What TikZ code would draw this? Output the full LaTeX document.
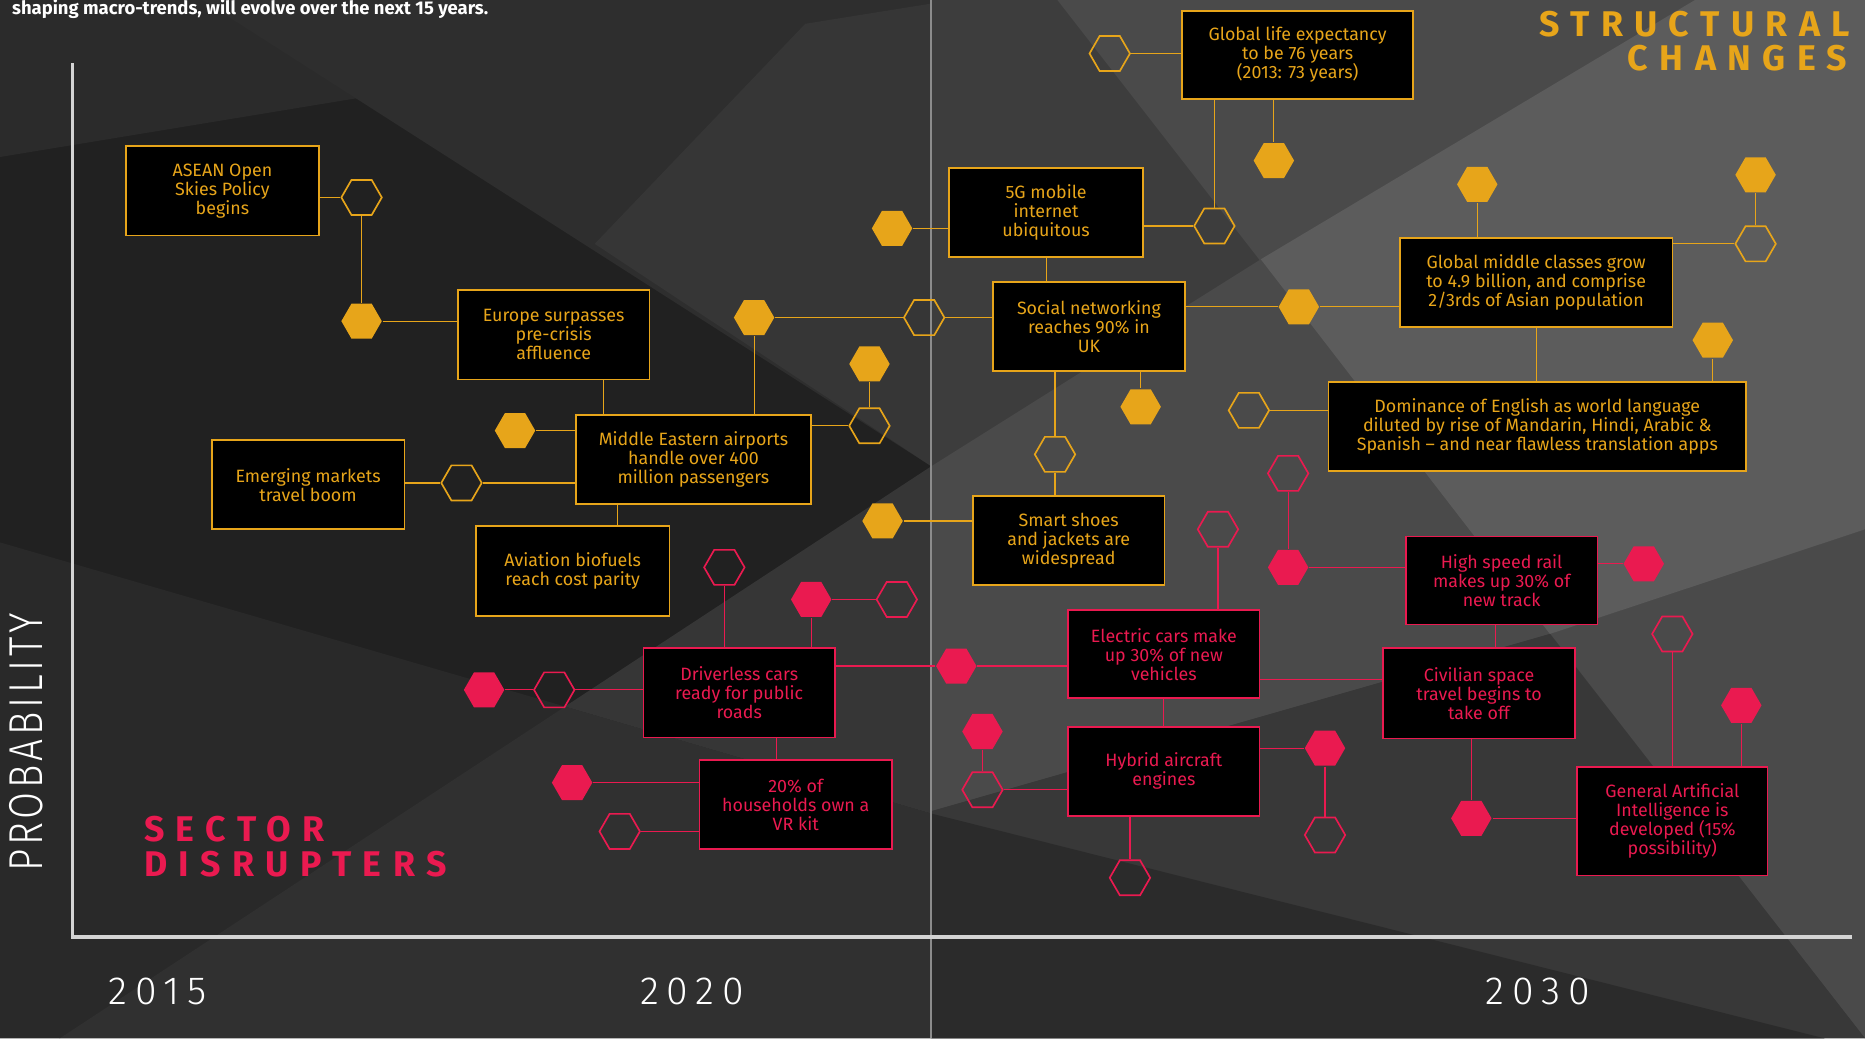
\documentclass[tikz,border=0pt]{standalone}
\usepackage{fontspec}
\setmainfont{Fira Sans}
\usetikzlibrary{shapes.geometric}
\definecolor{strorange}{HTML}{E7A51A}
\definecolor{secpink}{HTML}{EA1A50}
\definecolor{axisgrey}{HTML}{D4D4D4}
\newfontfamily\headfont[LetterSpace=32]{Fira Sans}
\IfFontExistsTF{Fira Sans Light}
  {\newfontfamily\yearfont[LetterSpace=20]{Fira Sans Light}
   \newfontfamily\probfont[LetterSpace=8,FakeStretch=0.82]{Fira Sans Light}}
  {\newfontfamily\yearfont[LetterSpace=20]{Fira Sans}
   \newfontfamily\probfont[LetterSpace=8,FakeStretch=0.82]{Fira Sans}}

\begin{document}
\begin{tikzpicture}[x=1pt,y=-1pt]
\tikzstyle{trend}=[draw, fill=black, line width=1.4pt, minimum width=161pt, minimum height=75pt, inner sep=2pt, align=center, font=\fontsize{15}{16}\selectfont]
\tikzstyle{sbox}=[trend, draw=strorange, text=strorange]
\tikzstyle{dbox}=[trend, draw=secpink, text=secpink]
\tikzstyle{hex}=[regular polygon, regular polygon sides=6, minimum size=34pt, inner sep=0pt, line width=1.4pt]
\tikzstyle{shexf}=[hex, fill=strorange]
\tikzstyle{shexo}=[hex, draw=strorange]
\tikzstyle{dhexf}=[hex, fill=secpink]
\tikzstyle{dhexo}=[hex, draw=secpink]
\tikzstyle{slink}=[draw=strorange, line width=1pt]
\tikzstyle{dlink}=[draw=secpink, line width=1pt]
\tikzstyle{heading}=[inner sep=0pt, font=\headfont\bfseries\fontsize{30}{32}\selectfont]
\tikzstyle{year}=[anchor=base west, inner sep=0pt, text=white, font=\yearfont\fontsize{33}{35}\selectfont]

\useasboundingbox (0,0) rectangle (1568,873);

% background shards
\fill[black!87] (0,0) rectangle (783,873);
\fill[black!83] (0,0) -- (783,0) -- (783,3) -- (0,132) -- cycle;
\fill[black!82] (170,0) -- (783,0) -- (783,392) -- cycle;
\fill[black!79] (500,205) -- (677,20) -- (783,3) -- (783,392) -- cycle;
\fill[black!84] (0,456) -- (475,594) -- (50,873) -- (0,873) -- cycle;
\fill[black!81] (475,594) -- (783,684) -- (783,873) -- (50,873) -- cycle;
\fill[black!79] (475,594) -- (783,392) -- (783,684) -- cycle;
\fill[black!76] (783,0) rectangle (1568,873);
\fill[black!71] (889,0) -- (1568,0) -- (1568,873) -- cycle;
\fill[black!71] (783,392) -- (1060,218) -- (1303,533) -- (783,682) -- cycle;
\fill[black!64] (1060,218) -- (1425,0) -- (1568,0) -- (1568,445) -- (1303,533) -- cycle;
\fill[black!78] (783,682) -- (1303,533) -- (1568,873) -- (783,873) -- cycle;
\fill[black!83] (783,684) -- (1534,873) -- (783,873) -- cycle;
%\draw[help lines] (0,0) grid[step=100] (1568,873);

\draw[black!45, line width=1.6pt] (783,0) -- (783,873);
\draw[axisgrey, line width=3pt] (61,53) -- (61,788) -- (1557,788);

\node (intro) [anchor=base west, inner sep=0pt, text=white, font=\bfseries\fontsize{15.5}{17}\selectfont] at (10,12) {shaping macro-trends, will evolve over the next 15 years.};

\node (prob) [rotate=90, anchor=base west, inner sep=0pt, text=white, font=\probfont\fontsize{40}{42}\selectfont] at (36,733) {PROBABILITY};
\node (y2015) [year] at (91,844.6) {2015};
\node (y2020) [year] at (538,844.6) {2020};
\node (y2030) [year] at (1249,844.6) {2030};

\node (structural) [heading, anchor=base west, text=strorange] at (1294,30.3) {STRUCTURAL};
\node (changes) [heading, anchor=base west, text=strorange] at (1368.5,59.4) {CHANGES};
\node (sector) [heading, anchor=base west, text=secpink] at (121,707.5) {SECTOR};
\node (disrupters) [heading, anchor=base west, text=secpink] at (121,737) {DISRUPTERS};

% structural changes
\node (asean) [sbox, minimum width=162pt] at (187,160.5) {ASEAN Open\\Skies Policy\\begins};
\node (europe) [sbox] at (465.5,281.5) {Europe surpasses\\pre-crisis\\affluence};
\node (mideast) [sbox, minimum width=198pt] at (583,386.5) {Middle Eastern airports\\handle over 400\\million passengers};
\node (emerging) [sbox, minimum width=162pt] at (259,407.5) {Emerging markets\\travel boom};
\node (biofuel) [sbox, minimum width=163pt, minimum height=76pt] at (481.5,480) {Aviation biofuels\\reach cost parity};
\node (lifeexp) [sbox, minimum width=194pt, minimum height=74pt] at (1091,46) {Global life expectancy\\to be 76 years\\(2013: 73 years)};
\node (fiveg) [sbox, minimum width=163pt] at (879.5,178.5) {5G mobile\\internet\\ubiquitous};
\node (social) [sbox] at (915.5,274.5) {Social networking\\reaches 90\% in\\UK};
\node (midclass) [sbox, minimum width=229pt] at (1291.5,237.5) {Global middle classes grow\\to 4.9 billion, and comprise\\2/3rds of Asian population};
\node (english) [sbox, minimum width=351pt] at (1292.5,358.5) {Dominance of English as world language\\diluted by rise of Mandarin, Hindi, Arabic \&\\Spanish -- and near flawless translation apps};
\node (shoes) [sbox] at (898.5,454.5) {Smart shoes\\and jackets are\\widespread};

\node (ho1) [shexo] at (304,166) {};
\node (hf1) [shexf] at (304,270) {};
\node (hf2) [shexf] at (433,362) {};
\node (hf3) [shexf] at (634,267) {};
\node (ho2) [shexo] at (777,267) {};
\node (hf4) [shexf] at (731,306) {};
\node (ho3) [shexo] at (731,358) {};
\node (ho4) [shexo] at (388,406) {};
\node (ho5) [shexo] at (933,45) {};
\node (hf5) [shexf] at (1071,135) {};
\node (ho6) [shexo] at (1021,190) {};
\node (hf6) [shexf] at (750,192) {};
\node (hf7) [shexf] at (1092,258) {};
\node (hf8) [shexf] at (959,342) {};
\node (ho7) [shexo] at (887,382) {};
\node (hf9) [shexf] at (1242,155) {};
\node (hf10) [shexf] at (1476,147) {};
\node (ho8) [shexo] at (1476,205) {};
\node (ho9) [shexo] at (1050,345) {};
\node (hf11) [shexf] at (1440,286) {};
\node (hf12) [shexf] at (742,438) {};

\draw[slink] (asean.east |- ho1) -- (ho1) -- (hf1) -- (europe.west |- hf1);
\draw[slink] ([xshift=42pt]europe.south) -- ([xshift=42pt]europe.south |- mideast.north);
\draw[slink] (hf2) -- (mideast.west |- hf2);
\draw[slink] (mideast.north -| hf3) -- (hf3) -- (ho2) -- (social.west |- ho2);
\draw[slink] (mideast.east |- ho3) -- (ho3) -- (hf4);
\draw[slink] ([xshift=-64pt]mideast.south) -- ([xshift=-64pt]mideast.south |- biofuel.north);
\draw[slink] (mideast.west |- ho4) -- (ho4) -- (emerging.east |- ho4);
\draw[slink] (ho5) -- (lifeexp.west |- ho5);
\draw[slink] (lifeexp.south -| hf5) -- (hf5);
\draw[slink] (lifeexp.south -| ho6) -- (ho6) -- (fiveg.east |- ho6);
\draw[slink] (hf6) -- (fiveg.west |- hf6);
\draw[slink] (fiveg.south) -- (fiveg.south |- social.north);
\draw[slink] (social.east |- hf7) -- (hf7) -- (midclass.west |- hf7);
\draw[slink] (social.south -| hf8) -- (hf8);
\draw[slink] (social.south -| ho7) -- (ho7) -- (ho7 |- shoes.north);
\draw[slink] (midclass.north -| hf9) -- (hf9);
\draw[slink] (midclass.east |- ho8) -- (ho8) -- (hf10);
\draw[slink] (midclass.south) -- (midclass.south |- english.north);
\draw[slink] (english.west |- ho9) -- (ho9);
\draw[slink] (english.north -| hf11) -- (hf11);
\draw[slink] (shoes.west |- hf12) -- (hf12);

% sector disrupters
\node (driverless) [dbox] at (621.5,582.5) {Driverless cars\\ready for public\\roads};
\node (vrkit) [dbox, minimum width=162pt] at (669,676.5) {20\% of\\households own a\\VR kit};
\node (electric) [dbox, minimum height=74pt] at (978.5,550) {Electric cars make\\up 30\% of new\\vehicles};
\node (hybrid) [dbox] at (978.5,648.5) {Hybrid aircraft\\engines};
\node (rail) [dbox, minimum height=74pt] at (1262.5,488) {High speed rail\\makes up 30\% of\\new track};
\node (space) [dbox, minimum height=76pt] at (1243.5,583) {Civilian space\\travel begins to\\take off};
\node (agi) [dbox, minimum width=160pt, minimum height=91pt] at (1406,690.5) {General Artificial\\Intelligence is\\developed (15\%\\possibility)};

\node (po1) [dhexo] at (609,477) {};
\node (pf1) [dhexf] at (682,504) {};
\node (po2) [dhexo] at (754,504) {};
\node (po3) [dhexo] at (466,580) {};
\node (pf2) [dhexf] at (407,580) {};
\node (pf3) [dhexf] at (804,560) {};
\node (pf4) [dhexf] at (481,658) {};
\node (po4) [dhexo] at (521,699) {};
\node (po5) [dhexo] at (1024,445) {};
\node (pf5) [dhexf] at (826,615) {};
\node (po6) [dhexo] at (826,664) {};
\node (pf6) [dhexf] at (1114,629) {};
\node (po7) [dhexo] at (1114,702) {};
\node (po8) [dhexo] at (950,738) {};
\node (pf7) [dhexf] at (1083,477) {};
\node (po9) [dhexo] at (1083,398) {};
\node (pf8) [dhexf] at (1382,474) {};
\node (pf9) [dhexf] at (1237,688) {};
\node (po10) [dhexo] at (1406,533) {};
\node (pf10) [dhexf] at (1464,593) {};

\draw[dlink] (driverless.west |- po3) -- (po3) -- (pf2);
\draw[dlink] (driverless.north -| po1) -- (po1);
\draw[dlink] (driverless.north -| pf1) -- (pf1) -- (po2);
\draw[dlink] (driverless.east |- pf3) -- (pf3) -- (electric.west |- pf3);
\draw[dlink] ([xshift=31pt]driverless.south) -- ([xshift=31pt]driverless.south |- vrkit.north);
\draw[dlink] (vrkit.west |- pf4) -- (pf4);
\draw[dlink] (vrkit.west |- po4) -- (po4);
\draw[dlink] (electric.north -| po5) -- (po5);
\draw[dlink] ([yshift=-21pt]electric.east) -- ([yshift=-21pt]electric.east -| space.west);
\draw[dlink] (electric.south) -- (hybrid.north);
\draw[dlink] (hybrid.west |- po6) -- (po6) -- (pf5);
\draw[dlink] (hybrid.east |- pf6) -- (pf6) -- (po7);
\draw[dlink] (hybrid.south -| po8) -- (po8);
\draw[dlink] (rail.west |- pf7) -- (pf7) -- (po9);
\draw[dlink] (rail.east |- pf8) -- (pf8);
\draw[dlink] ([xshift=-5.5pt]rail.south) -- ([xshift=-5.5pt]rail.south |- space.north);
\draw[dlink] (space.south -| pf9) -- (pf9) -- (agi.west |- pf9);
\draw[dlink] (agi.north -| po10) -- (po10);
\draw[dlink] (agi.north -| pf10) -- (pf10);

\end{tikzpicture}
\end{document}
